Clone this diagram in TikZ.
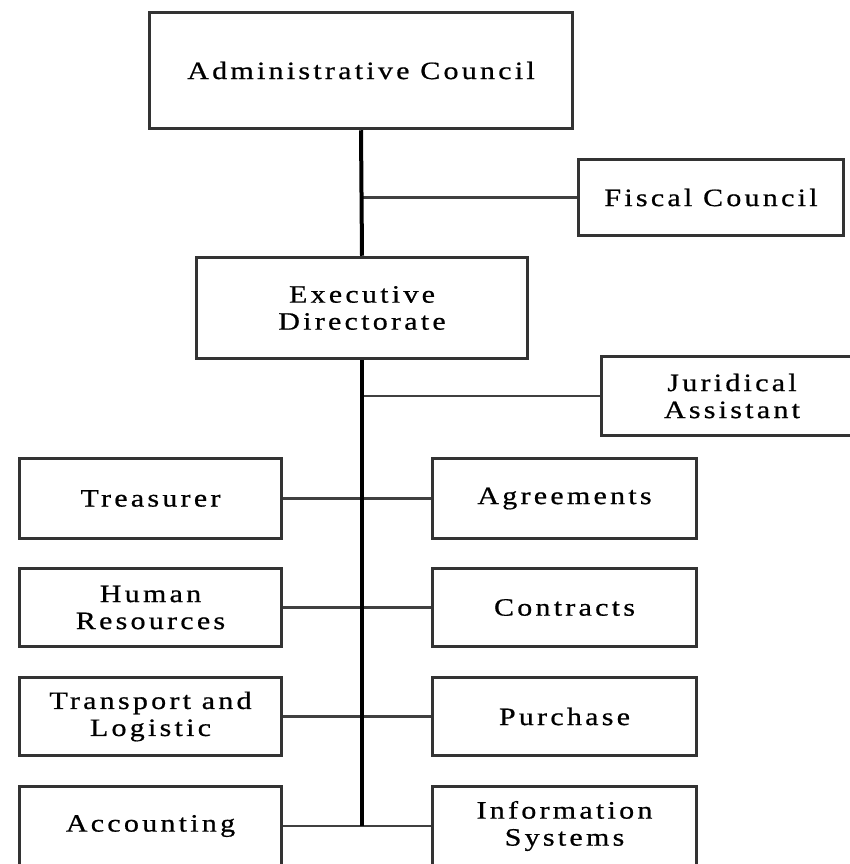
\documentclass[tikz,border=0pt]{standalone}
\usepackage{fontspec}
\setmainfont{Liberation Serif}[LetterSpace=13, FakeStretch=1.2, FakeBold=0.7]
\begin{document}
\begin{tikzpicture}[x=1pt,y=-1pt,
  unit/.style={draw=black!80, line width=3.5pt, fill=white, rectangle,
    align=center, inner sep=0pt, font=\fontsize{25}{27}\selectfont},
  leftcol/.style={unit, minimum width=262pt},
  rightcol/.style={unit, minimum width=264pt},
  trunk/.style={line width=4pt, black},
  branch/.style={line width=2.5pt, black!75}]
\clip (0,0) rectangle (850,864);
\fill[white] (0,0) rectangle (850,864);

% upper levels
\node[unit, minimum width=423pt, minimum height=116pt] (admin) at (361,70.5) {Administrative Council};
\node[unit, minimum width=265pt, minimum height=76pt] (fiscal) at (711,197.5) {Fiscal Council};
\node[unit, minimum width=331pt, minimum height=101pt] (exec) at (362,308) {Executive\\Directorate};
\node[unit, minimum width=261pt, minimum height=79pt] (jurid) at (732,396) {Juridical\\Assistant};

% departments
\node[leftcol, minimum height=80pt] (treas) at (150.5,498.5) {Treasurer};
\node[rightcol, minimum height=80pt] (agree) at (564.5,498.5) {Agreements};
\node[leftcol, minimum height=78pt] (hr) at (150.5,607.5) {Human\\Resources};
\node[rightcol, minimum height=78pt] (contr) at (564.5,607.5) {Contracts};
\node[leftcol, minimum height=78pt] (trans) at (150.5,716.5) {Transport and\\Logistic};
\node[rightcol, minimum height=78pt] (purch) at (564.5,716.5) {Purchase};
\node[leftcol, minimum height=79pt] (acct) at (150.5,826) {Accounting};
\node[rightcol, minimum height=79pt] (infos) at (564.5,826) {Information\\Systems};

% connectors: side branches first, main trunk on top
\coordinate (tail) at (exec.south |- acct.east);
\draw[branch] (fiscal.west) -- (fiscal.west -| admin.south);
\draw[branch] (jurid.west) -- (jurid.west -| exec.south);
\draw[branch] (treas.east) -- (agree.west);
\draw[branch] (hr.east) -- (contr.west);
\draw[branch] (trans.east) -- (purch.west);
\draw[branch] (acct.east) -- (infos.west);
\draw[trunk] (admin.south) -- (exec.north);
\draw[trunk] (exec.south) -- (tail);
\end{tikzpicture}
\end{document}
